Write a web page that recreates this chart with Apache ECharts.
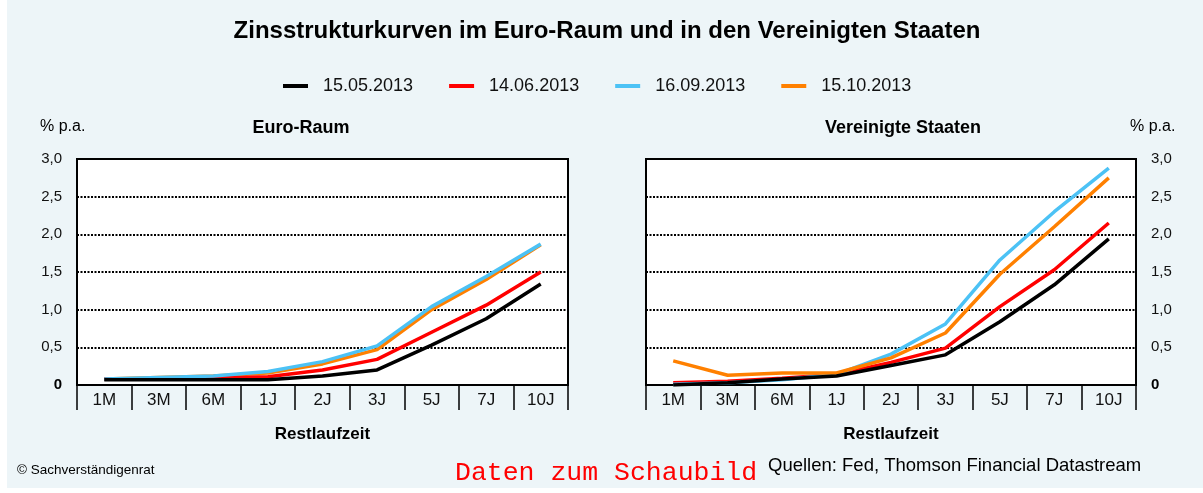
<!DOCTYPE html>
<html lang="de">
  <head>
    <meta charset="UTF-8" />
    <title>Zinsstrukturkurven</title>
    <style>
      * {
        margin: 0;
        padding: 0;
      }
      body {
        background: #fff;
      }
      #main {
        width: 1203px;
        height: 493px;
      }
    </style>
  </head>
  <body>
    <div id="main"></div>
    <script src="https://cdn.jsdelivr.net/npm/echarts@6/dist/echarts.min.js"></script>
    <script>
      // Restlaufzeiten
      const laufzeiten = ["1M", "3M", "6M", "1J", "2J", "3J", "5J", "7J", "10J"];
      // Stichtage
      const stichtage = ["15.05.2013", "14.06.2013", "16.09.2013", "15.10.2013"];
      const farben = ["#000000", "#ff0000", "#4cc2f5", "#ff8000"];

      // Euro-Raum, % p.a.
      const euro_0515 = [0.07, 0.07, 0.07, 0.07, 0.12, 0.2, 0.53, 0.88, 1.34];
      const euro_0614 = [0.08, 0.08, 0.09, 0.11, 0.2, 0.34, 0.7, 1.06, 1.5];
      const euro_0916 = [0.08, 0.1, 0.12, 0.18, 0.31, 0.52, 1.04, 1.44, 1.87];
      const euro_1015 = [0.08, 0.1, 0.12, 0.16, 0.28, 0.47, 1.0, 1.4, 1.86];

      // Vereinigte Staaten, % p.a.
      const us_0515 = [0.0, 0.03, 0.08, 0.12, 0.26, 0.4, 0.84, 1.33, 1.94];
      const us_0614 = [0.03, 0.05, 0.09, 0.14, 0.3, 0.49, 1.04, 1.53, 2.15];
      const us_0916 = [0.01, 0.03, 0.07, 0.14, 0.41, 0.81, 1.66, 2.3, 2.88];
      const us_1015 = [0.32, 0.13, 0.16, 0.16, 0.36, 0.69, 1.47, 2.1, 2.75];

      const euroReihen = [euro_0515, euro_0614, euro_0916, euro_1015];
      const usReihen = [us_0515, us_0614, us_0916, us_1015];

      const schrift = "Liberation Sans, Arial, sans-serif";
      const chart = echarts.init(document.getElementById("main"));

      // gemeinsame Achsen-Einstellungen
      function xAchse(gridIndex) {
        return {
          type: "category",
          gridIndex: gridIndex,
          data: laufzeiten,
          boundaryGap: true,
          name: "Restlaufzeit",
          nameLocation: "middle",
          nameGap: 41,
          nameTextStyle: { fontFamily: schrift, fontWeight: "bold", fontSize: 17, color: "#000" },
          axisLine: { show: true, lineStyle: { color: "#000", width: 2 } },
          axisTick: { show: true, length: 25, interval: 0, lineStyle: { color: "#000", width: 1.5 } },
          axisLabel: { margin: 7, fontFamily: schrift, fontSize: 17, color: "#111", interval: 0 },
          splitLine: { show: false },
        };
      }

      function yAchse(gridIndex, pos) {
        return {
          type: "value",
          gridIndex: gridIndex,
          position: pos,
          min: 0,
          max: 3,
          interval: 0.5,
          axisLine: { show: false },
          axisTick: { show: false },
          axisLabel: {
            margin: 15,
            fontFamily: schrift,
            fontSize: 15,
            color: "#111",
            formatter: (v) => (v === 0 ? "{b|0}" : v.toFixed(1).replace(".", ",")),
            rich: { b: { fontFamily: schrift, fontSize: 15, fontWeight: "bold", color: "#000" } },
          },
          splitLine: { show: true, lineStyle: { color: "#000", width: 2, type: [2, 1.5] } },
        };
      }

      const serien = [];
      stichtage.forEach((name, i) => {
        serien.push({
          name: name,
          type: "line",
          xAxisIndex: 0,
          yAxisIndex: 0,
          data: euroReihen[i],
          symbol: "none",
          lineStyle: { width: 3.5, color: farben[i] },
          itemStyle: { color: farben[i] },
          z: 2 + (i === 2 ? 2 : i === 3 ? 1 : 3 - i),
        });
        serien.push({
          name: name,
          type: "line",
          xAxisIndex: 1,
          yAxisIndex: 1,
          data: usReihen[i],
          symbol: "none",
          lineStyle: { width: 3.5, color: farben[i] },
          itemStyle: { color: farben[i] },
          z: 2 + (i === 0 ? 4 : i),
        });
      });

      const text = (x, y, t, style) => ({
        type: "text",
        x: x,
        y: y,
        style: Object.assign({ text: t, fontFamily: schrift, fill: "#000", verticalAlign: "middle" }, style),
      });

      const option = {
        animation: false,
        backgroundColor: "#ffffff",
        legend: {
          top: 72,
          left: 278,
          itemWidth: 25,
          itemHeight: 4,
          itemGap: 36,
          icon: "rect",
          textStyle: { fontFamily: schrift, fontSize: 18, color: "#111", padding: [0, 0, 0, 10] },
          data: stichtage,
        },
        graphic: [
          {
            type: "rect",
            z: -10,
            silent: true,
            shape: { x: 7, y: 0, width: 1196, height: 488 },
            style: { fill: "#edf5f8" },
          },
          text(607, 31, "Zinsstrukturkurven im Euro-Raum und in den Vereinigten Staaten", {
            fontSize: 24,
            fontWeight: "bold",
            align: "center",
          }),
          text(40, 127, "% p.a.", { fontSize: 16 }),
          text(1130, 127, "% p.a.", { fontSize: 16 }),
          text(301, 128, "Euro-Raum", { fontSize: 18, fontWeight: "bold", align: "center" }),
          text(903, 128, "Vereinigte Staaten", { fontSize: 18, fontWeight: "bold", align: "center" }),
          text(17, 470, "© Sachverständigenrat", { fontSize: 13.5 }),
          text(455, 473, "Daten zum Schaubild", {
            fontSize: 26.5,
            fill: "#ff0000",
            fontFamily: "Liberation Mono, Courier New, monospace",
          }),
          text(768, 466, "Quellen: Fed, Thomson Financial Datastream", { fontSize: 18.5 }),
        ],
        grid: [
          { left: 77, top: 159, width: 491, height: 226, show: true, backgroundColor: "#fff", borderColor: "#000", borderWidth: 2 },
          { left: 646, top: 159, width: 490, height: 226, show: true, backgroundColor: "#fff", borderColor: "#000", borderWidth: 2 },
        ],
        xAxis: [xAchse(0), xAchse(1)],
        yAxis: [yAchse(0, "left"), yAchse(1, "right")],
        series: serien,
      };

      chart.setOption(option);
    </script>
  </body>
</html>
